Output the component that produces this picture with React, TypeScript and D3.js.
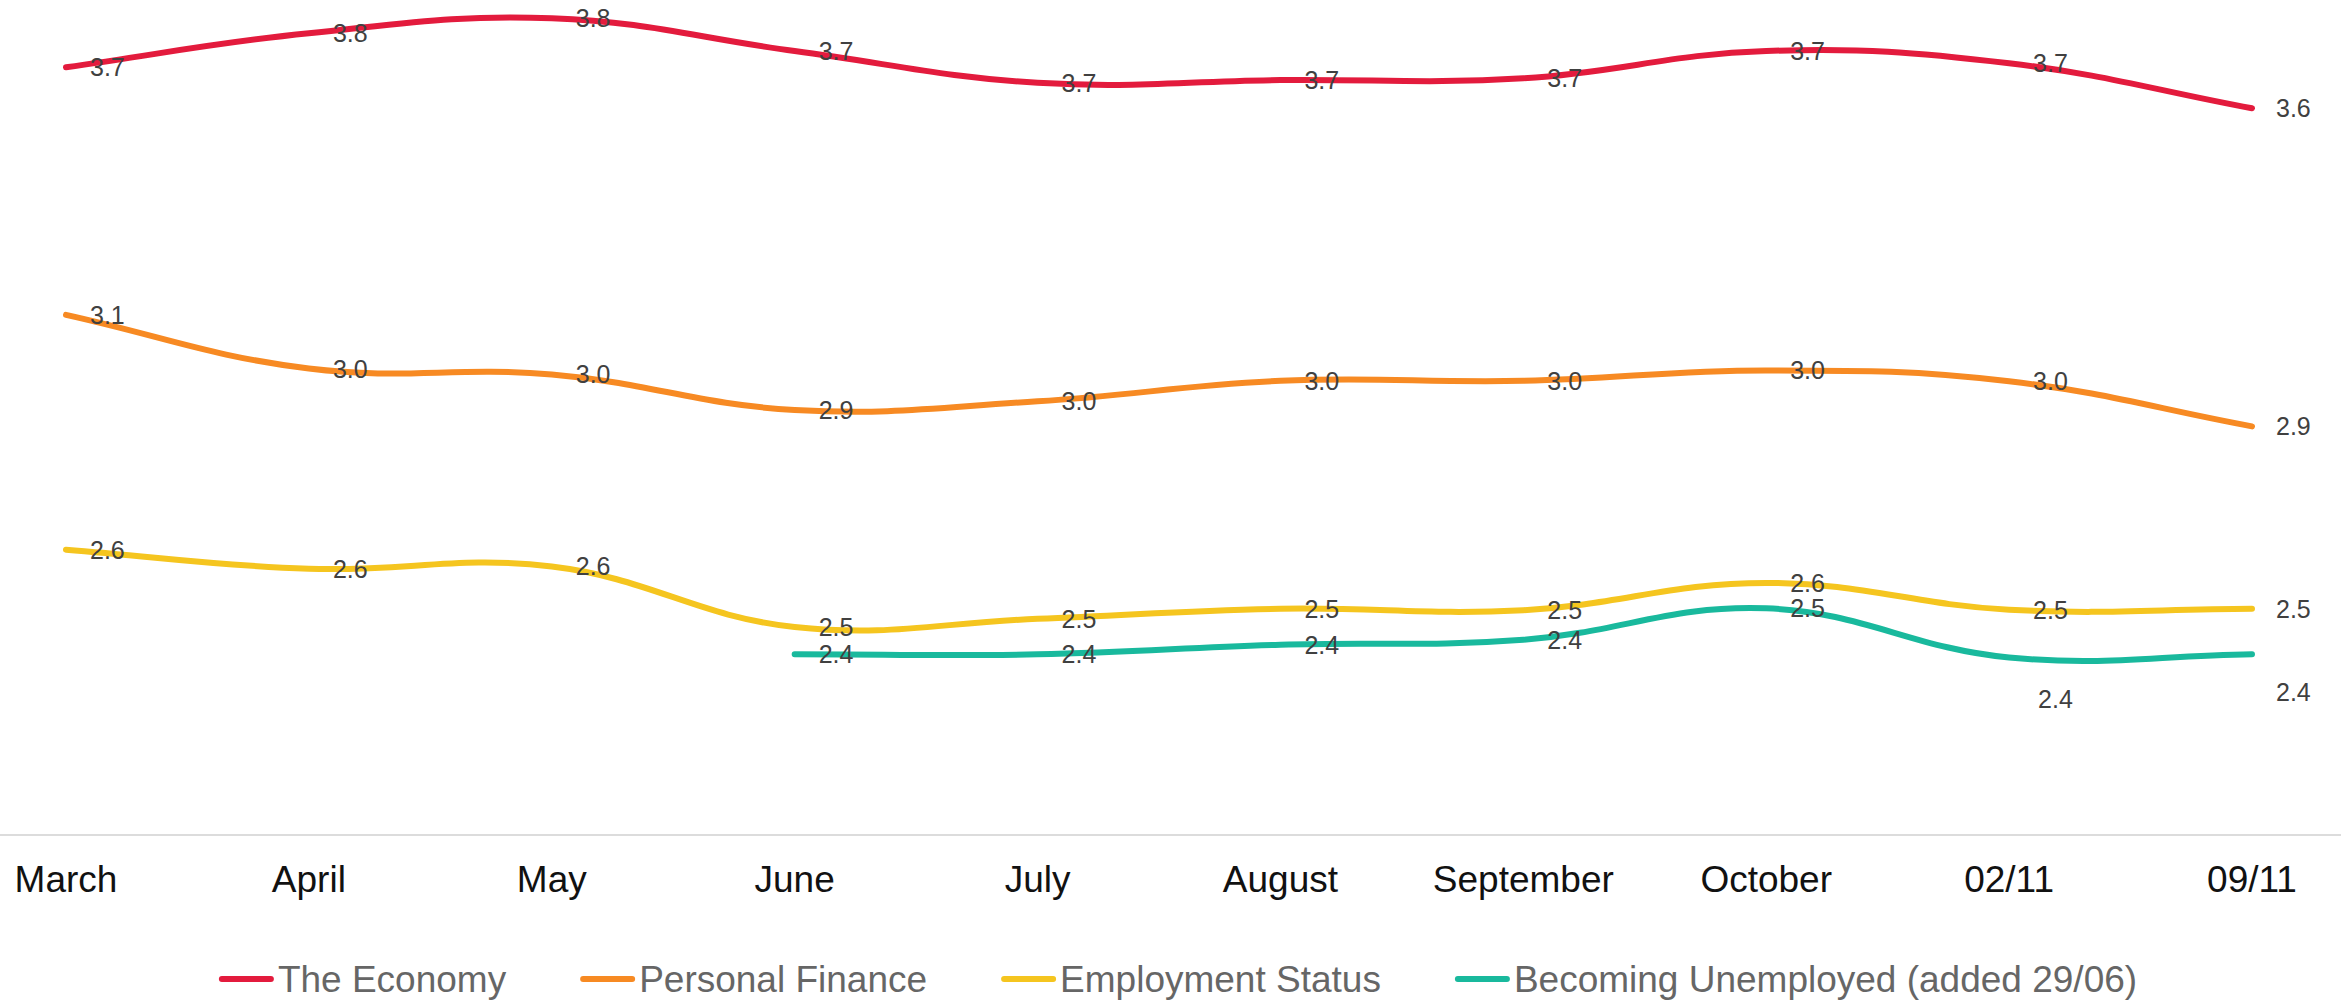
import React, { useMemo } from "react";
import * as d3 from "d3";

const W = 2341;
const H = 1000;

const categories = ["March", "April", "May", "June", "July", "August", "September", "October", "02/11", "09/11"];

const seriesNames = ["The Economy", "Personal Finance", "Employment Status", "Becoming Unemployed (added 29/06)"];
const seriesColors = ["#e31b3d", "#f78a23", "#f5c51f", "#19b99d"];

const economy = [3.686, 3.761, 3.794, 3.722, 3.652, 3.658, 3.662, 3.722, 3.695, 3.596];
const personalFinance = [3.142, 3.024, 3.011, 2.933, 2.952, 2.997, 2.997, 3.02, 2.996, 2.897];
const employmentStatus = [2.626, 2.584, 2.589, 2.456, 2.474, 2.496, 2.493, 2.553, 2.494, 2.496];
const becomingUnemployed: (number | null)[] = [null, null, null, 2.396, 2.396, 2.417, 2.428, 2.497, 2.389, 2.396];

const seriesValues: (number | null)[][] = [economy, personalFinance, employmentStatus, becomingUnemployed];

const yMin = 2.0;
const yMax = 3.834;

// label nudges (style only): series index, point index, dx, dy
const labelNudges: { s: number; i: number; dx: number; dy: number }[] = [
  { s: 3, i: 8, dx: 5, dy: 42 },
  { s: 3, i: 9, dx: 0, dy: 38 },
];

const FONT = "'Liberation Sans', Arial, Helvetica, sans-serif";

type Pt = { x: number; y: number };

function splinePath(points: Pt[], tension: number): string {
  const p = d3.path();
  if (!points.length) return "";
  const ctrl = points.map((cur, i) => {
    const prev = i === 0 ? cur : points[i - 1];
    const next = i === points.length - 1 ? cur : points[i + 1];
    const d01 = Math.hypot(cur.x - prev.x, cur.y - prev.y);
    const d12 = Math.hypot(next.x - cur.x, next.y - cur.y);
    let s01 = d01 / (d01 + d12);
    let s12 = d12 / (d01 + d12);
    if (isNaN(s01)) s01 = 0;
    if (isNaN(s12)) s12 = 0;
    const fa = tension * s01;
    const fb = tension * s12;
    return {
      prev: { x: cur.x - fa * (next.x - prev.x), y: cur.y - fa * (next.y - prev.y) },
      next: { x: cur.x + fb * (next.x - prev.x), y: cur.y + fb * (next.y - prev.y) },
    };
  });
  p.moveTo(points[0].x, points[0].y);
  for (let i = 1; i < points.length; i++) {
    const a = ctrl[i - 1].next;
    const b = ctrl[i].prev;
    p.bezierCurveTo(a.x, a.y, b.x, b.y, points[i].x, points[i].y);
  }
  return p.toString();
}

function measure(text: string, font: string): number {
  const c = document.createElement("canvas");
  const ctx = c.getContext("2d");
  if (!ctx) return text.length * 18;
  ctx.font = font;
  return ctx.measureText(text).width;
}

export default function App() {
  const x = d3.scalePoint<string>().domain(categories).range([66, 2252]);
  const y = d3.scaleLinear().domain([yMin, yMax]).range([834.5, 0]);

  const legendFont = 37;
  const swatchW = 55;
  const swatchGap = 4;
  const itemGap = 74;
  const legend = useMemo(() => {
    const widths = seriesNames.map((n) => measure(n, `${legendFont}px ${FONT}`));
    const total = widths.reduce((a, w) => a + swatchW + swatchGap + w, 0) + itemGap * (seriesNames.length - 1);
    let cx = 1178 - total / 2;
    return seriesNames.map((n, i) => {
      const item = { name: n, x: cx, w: widths[i], color: seriesColors[i] };
      cx += swatchW + swatchGap + widths[i] + itemGap;
      return item;
    });
  }, []);

  return (
    <svg
      width={W}
      height={H}
      style={{ position: "absolute", left: 0, top: 0, background: "#fff" }}
      fontFamily={FONT}
    >
      <rect x={0} y={0} width={W} height={H} fill="#fff" />
      {/* baseline */}
      <line x1={0} x2={W} y1={y(yMin) + 0.5} y2={y(yMin) + 0.5} stroke="#dcdcdc" strokeWidth={2} />

      {/* x-axis labels */}
      {categories.map((c) => (
        <text key={c} x={x(c)} y={892} textAnchor="middle" fontSize={37} fill="#111">
          {c}
        </text>
      ))}

      {/* lines */}
      {seriesValues.map((vals, s) => {
        const pts: Pt[] = [];
        vals.forEach((v, i) => {
          if (v !== null) pts.push({ x: x(categories[i]) as number, y: y(v) });
        });
        return (
          <path
            key={s}
            d={splinePath(pts, 0.4)}
            fill="none"
            stroke={seriesColors[s]}
            strokeWidth={6}
            strokeLinecap="round"
            strokeLinejoin="round"
          />
        );
      })}

      {/* data labels */}
      {seriesValues.map((vals, s) =>
        vals.map((v, i) => {
          if (v === null) return null;
          const n = labelNudges.find((d) => d.s === s && d.i === i);
          const px = (x(categories[i]) as number) + 24 + (n ? n.dx : 0);
          const py = y(v) + (n ? n.dy : 0);
          return (
            <text
              key={`${s}-${i}`}
              x={px}
              y={py}
              fontSize={25}
              fill="#404040"
              dominantBaseline="central"
            >
              {v.toFixed(1)}
            </text>
          );
        })
      )}

      {/* legend */}
      {legend.map((it) => (
        <g key={it.name}>
          <line
            x1={it.x + 3}
            x2={it.x + swatchW - 3}
            y1={979}
            y2={979}
            stroke={it.color}
            strokeWidth={6}
            strokeLinecap="round"
          />
          <text
            x={it.x + swatchW + swatchGap}
            y={979}
            fontSize={legendFont}
            fill="#666"
            dominantBaseline="central"
          >
            {it.name}
          </text>
        </g>
      ))}
    </svg>
  );
}
